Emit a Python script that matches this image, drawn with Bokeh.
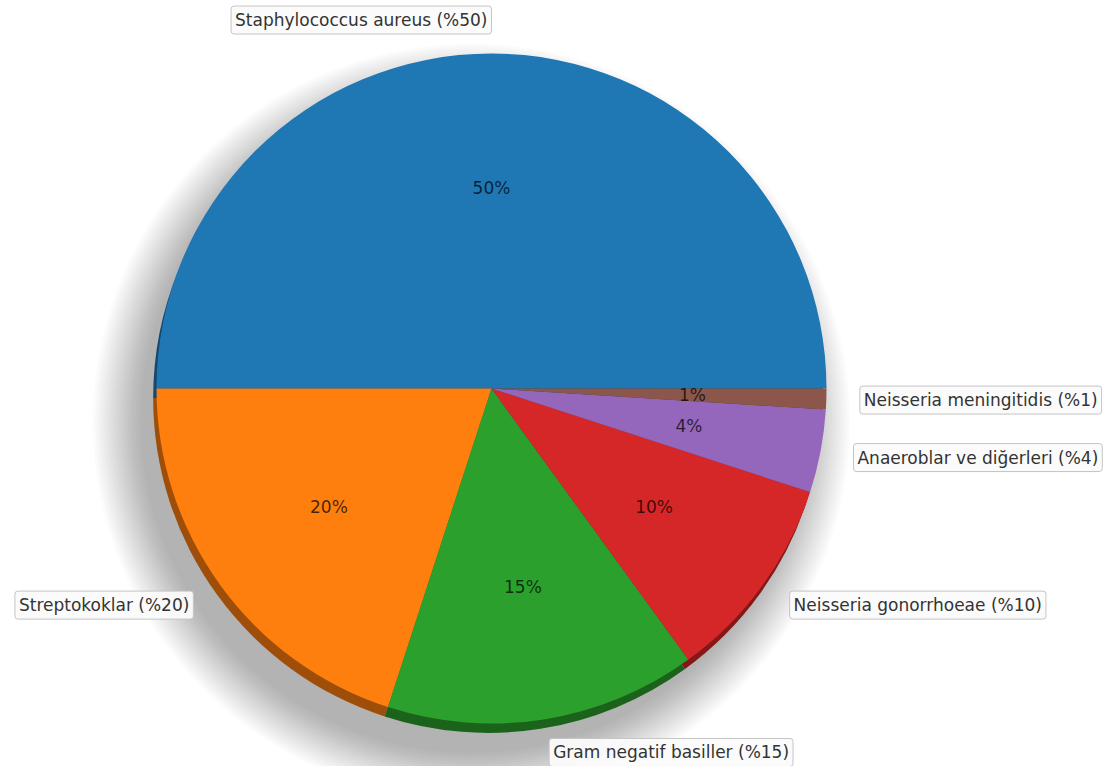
import numpy as np
from bokeh.plotting import figure
from bokeh.models import Range1d, Label, ColumnDataSource
from bokeh.embed import file_html
from bokeh.resources import INLINE

# ---- data ----
names = ["Staphylococcus aureus", "Streptokoklar", "Gram negatif basiller",
         "Neisseria gonorrhoeae", "Anaeroblar ve diğerleri", "Neisseria meningitidis"]
values = [50, 20, 15, 10, 4, 1]
colors = ["#1f77b4", "#ff7f0e", "#2ca02c", "#d62728", "#9467bd", "#8c564b"]

# ---- geometry (matplotlib-like pie: start at 0 rad, counter-clockwise) ----
vals = np.array(values, dtype=float)
frac = vals / vals.sum()
ends = np.cumsum(frac) * 2 * np.pi
starts = ends - frac * 2 * np.pi
mids = (starts + ends) / 2

W, H = 1112, 766
scale = 335.0
cx_px, cy_px = 491.0, 388.0
x0 = -cx_px / scale
x1 = (W - cx_px) / scale
y1 = cy_px / scale
y0 = -(H - cy_px) / scale

p = figure(width=W, height=H, output_backend="svg", toolbar_location=None,
           x_range=Range1d(x0, x1), y_range=Range1d(y0, y1),
           min_border=0, x_axis_type=None, y_axis_type=None)
p.grid.visible = False
p.outline_line_color = None
p.background_fill_color = "white"
p.border_fill_color = "white"

# soft halo shadow (lower-left)
n = 20
for i in range(n):
    r = 0.98 + 0.15 * (i + 1) / n
    p.circle(x=-0.06, y=-0.10, radius=r, fill_color="black", fill_alpha=0.016,
             line_color=None)

def darker(h, f=0.62):
    h = h.lstrip("#")
    r, g, b = (int(h[i:i + 2], 16) for i in (0, 2, 4))
    return "#%02x%02x%02x" % (int(r * f), int(g * f), int(b * f))

src = ColumnDataSource(dict(start=starts, end=ends, color=colors,
                            shadow=[darker(c) for c in colors]))
# rim shadow
p.wedge(x=-0.01, y=-0.028, radius=1.0, start_angle="start", end_angle="end",
        direction="anticlock", fill_color="shadow", line_color=None, source=src)
# wedges
p.wedge(x=0, y=0, radius=1.0, start_angle="start", end_angle="end",
        direction="anticlock", fill_color="color", line_color=None, source=src)

# percent labels
for v, m in zip(values, mids):
    p.add_layout(Label(x=0.6 * np.cos(m), y=0.6 * np.sin(m), text=f"{v}%",
                       text_align="center", text_baseline="middle",
                       text_font="DejaVu Sans", text_font_size="17px",
                       text_color="black", text_alpha=0.72))

# outer labels
for nm, v, m in zip(names, values, mids):
    x = 1.1 * np.cos(m)
    y = 1.1 * np.sin(m)
    align = "left" if x > 1e-9 else "right"
    p.add_layout(Label(x=x, y=y, text=f"{nm} (%{v})",
                       text_align=align, text_baseline="middle",
                       text_font="DejaVu Sans", text_font_size="17px",
                       text_color="#333333",
                       background_fill_color="#fbfbfb", background_fill_alpha=0.95,
                       border_line_color="#c4c4c4", border_line_width=1,
                       border_radius=3, padding=4))

open("out.html", "w").write(file_html(p, INLINE))
